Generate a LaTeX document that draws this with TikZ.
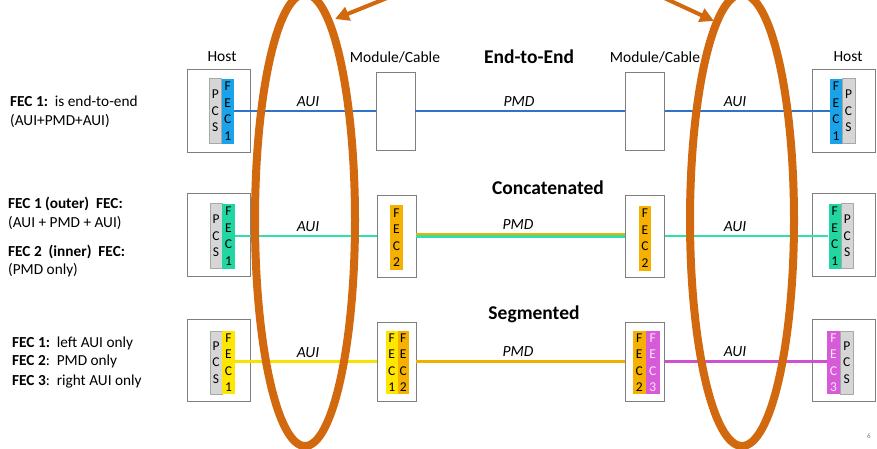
\documentclass[tikz,border=0pt]{standalone}
\usepackage{fontspec}
\setmainfont{Carlito}
\usetikzlibrary{arrows.meta}
\definecolor{ellc}{HTML}{D2690E}
\definecolor{boxgray}{HTML}{7F7F7F}
\definecolor{pcsfill}{HTML}{D6D6D6}
\definecolor{pcsdraw}{HTML}{A8A8A8}
\definecolor{fblue}{HTML}{1AA3E8}
\definecolor{lblue}{HTML}{2F74C8}
\definecolor{fgreen}{HTML}{22D6A2}
\definecolor{lgreen}{HTML}{30E0AA}
\definecolor{fyellow}{HTML}{FFE600}
\definecolor{lyellow}{HTML}{F8E000}
\definecolor{forange}{HTML}{F5B000}
\definecolor{lorange}{HTML}{F0B000}
\definecolor{fmag}{HTML}{D75BD8}
\definecolor{lmag}{HTML}{D050D0}
\begin{document}
\begin{tikzpicture}[x=1pt,y=-1pt,
  box/.style={draw=boxgray, line width=0.9pt, fill=white, minimum width=63pt, minimum height=83pt, inner sep=0},
  modbox/.style={box, minimum width=39pt},
  strip/.style={minimum width=12.5pt, minimum height=65pt, inner sep=0, align=center, font=\fontsize{13.5}{16.5}\selectfont},
  pcs/.style={strip, fill=pcsfill, draw=pcsdraw, line width=0.5pt},
  fec/.style={strip, fill=#1},
  conn/.style={line width=2.6pt},
  lbl/.style={font=\fontsize{15.5}{18}\selectfont, anchor=base, inner sep=0},
  ital/.style={font=\itshape\fontsize{15.5}{18}\selectfont, anchor=base, inner sep=0},
  ttl/.style={font=\bfseries\fontsize{19.5}{22}\selectfont, anchor=base, inner sep=0},
  lt/.style={font=\fontsize{15.3}{17}\selectfont, anchor=base west, inner sep=0},
  ell/.style={draw=ellc, line width=8pt},
  arr/.style={draw=ellc, line width=4pt, -{Triangle[length=14pt,width=14pt]}}
]
\useasboundingbox (0,0) rectangle (877,448);
\fill[white] (0,0) rectangle (877,448);

% ---------- left texts ----------
\node[lt] (t1a) at (10,106) {\textbf{FEC 1:}\ \ is end-to-end};
\node[lt] (t1b) at (10,125) {(AUI+PMD+AUI)};
\node[lt] (t2a) at (8,208) {\textbf{FEC 1 (outer)\ \ FEC:}};
\node[lt] (t2b) at (8,227) {(AUI + PMD + AUI)};
\node[lt] (t2c) at (8,256) {\textbf{FEC 2\ \ (inner)\ \ FEC:}};
\node[lt] (t2d) at (8,274) {(PMD only)};
\node[lt] (t3a) at (12,347) {\textbf{FEC 1:}\ \ left AUI only};
\node[lt] (t3b) at (12,365) {\textbf{FEC 2}:\ \ PMD only};
\node[lt] (t3c) at (12,385) {\textbf{FEC 3}:\ \ right AUI only};

% ---------- headings ----------
\node[lbl] (hostlbl1) at (222,61) {Host};
\node[lbl] (hostlbl2) at (848,61) {Host};
\node[lbl] (modlbl1) at (395,62) {Module/Cable};
\node[lbl] (modlbl2) at (655,62) {Module/Cable};
\node[ttl] (title1) at (529,63) {End-to-End};
\node[ttl] (title2) at (548,194) {Concatenated};
\node[ttl] (title3) at (534,319) {Segmented};

% ---------- row 1 ----------
\node[box] (hL1) at (218.5,110.5) {};
\node[pcs] (pL1) at (215.25,111) {P\\C\\S};
\node[fec=fblue] (fL1) at (227.75,111) {F\\E\\C\\1};
\node[modbox, minimum height=78pt] (mL1) at (395.5,111) {};
\node[modbox, minimum height=78pt] (mR1) at (645,111) {};
\node[box] (hR1) at (843.5,110.5) {};
\node[fec=fblue] (fR1) at (836,111) {F\\E\\C\\1};
\node[pcs] (pR1) at (848.5,111) {P\\C\\S};
\draw[conn, lblue] (fL1.east) -- (mL1.west);
\draw[conn, lblue] (mL1.east) -- (mR1.west);
\draw[conn, lblue] (mR1.east) -- (fR1.west);
\node[ital] (aui1l) at (308,106) {AUI};
\node[ital] (pmd1) at (519,106) {PMD};
\node[ital] (aui1r) at (735,106) {AUI};

% ---------- row 2 ----------
\node[box] (hL2) at (218.5,234.5) {};
\node[pcs] (pL2) at (216,236) {P\\C\\S};
\node[fec=fgreen] (fL2) at (228.5,236) {F\\E\\C\\1};
\node[modbox, minimum height=82pt] (mL2) at (396.5,236) {};
\node[fec=forange] (gL2) at (396.5,237.5) {F\\E\\C\\2};
\node[modbox, minimum height=82pt] (mR2) at (645,236) {};
\node[fec=forange, minimum width=12pt] (gR2) at (645,238) {F\\E\\C\\2};
\node[box] (hR2) at (843.5,234.5) {};
\node[fec=fgreen] (fR2) at (834.75,236) {F\\E\\C\\1};
\node[pcs] (pR2) at (847.25,236) {P\\C\\S};
\draw[conn, lgreen] (fL2.east) -- (mL2.west);
\draw[conn, lgreen] ([yshift=-0.5pt]mL2.east) -- ([yshift=-0.5pt]mR2.west);
\draw[line width=2.2pt, lorange] ([yshift=1.9pt]mL2.east) -- ([yshift=1.9pt]mR2.west);
\draw[conn, lgreen] (mR2.east) -- (fR2.west);
\node[ital] (aui2l) at (308,231) {AUI};
\node[ital] (pmd2) at (518,229) {PMD};
\node[ital] (aui2r) at (735,231) {AUI};

% ---------- row 3 ----------
\node[box, minimum height=82pt] (hL3) at (218.5,360) {};
\node[pcs, minimum height=63pt] (pL3) at (216,362.5) {P\\C\\S};
\node[fec=fyellow, minimum height=63pt] (fL3) at (228.5,362.5) {F\\E\\C\\1};
\node[modbox, minimum height=79pt] (mL3) at (396.5,361.5) {};
\node[fec=fyellow, minimum width=11.5pt, minimum height=63pt] (gL3a) at (391.75,362.5) {F\\E\\C\\1};
\node[fec=forange, minimum width=11.5pt, minimum height=63pt] (gL3b) at (403.25,362.5) {F\\E\\C\\2};
\node[modbox, minimum height=79pt] (mR3) at (645,361.5) {};
\node[fec=forange, minimum width=13.5pt, minimum height=63pt] (gR3a) at (639.25,362.5) {F\\E\\C\\2};
\node[fec=fmag, minimum width=13.5pt, minimum height=63pt, text=white!85!fmag] (gR3b) at (652.75,362.5) {F\\E\\C\\3};
\node[box, minimum height=82pt] (hR3) at (843.5,360) {};
\node[fec=fmag, minimum width=12.5pt, minimum height=63pt, text=white!85!fmag] (fR3) at (833.5,362.5) {F\\E\\C\\3};
\node[pcs, minimum height=63pt] (pR3) at (846.75,362.5) {P\\C\\S};
\draw[conn, lyellow] (fL3.east |- mL3.west) -- (mL3.west);
\draw[conn, lorange] (mL3.east) -- (mR3.west);
\draw[conn, lmag] (mR3.east) -- (fR3.west |- mR3.east);
\node[ital] (aui3l) at (308,357) {AUI};
\node[ital] (pmd3) at (518,356) {PMD};
\node[ital] (aui3r) at (735,356) {AUI};

% ---------- ellipses and arrows ----------
\draw[ell] (305,220) ellipse [x radius=50pt, y radius=226pt];
\draw[ell] (742,220) ellipse [x radius=52pt, y radius=226pt];
\coordinate (aLs) at (392,-4);
\coordinate (aLe) at (335,19);
\coordinate (aRs) at (660,-4);
\coordinate (aRe) at (714,21);
\draw[arr] (aLs) -- (aLe);
\draw[arr] (aRs) -- (aRe);

\node[font=\fontsize{7}{8}\selectfont, text=gray, anchor=base] (pg) at (869,438) {6};
\end{tikzpicture}
\end{document}
